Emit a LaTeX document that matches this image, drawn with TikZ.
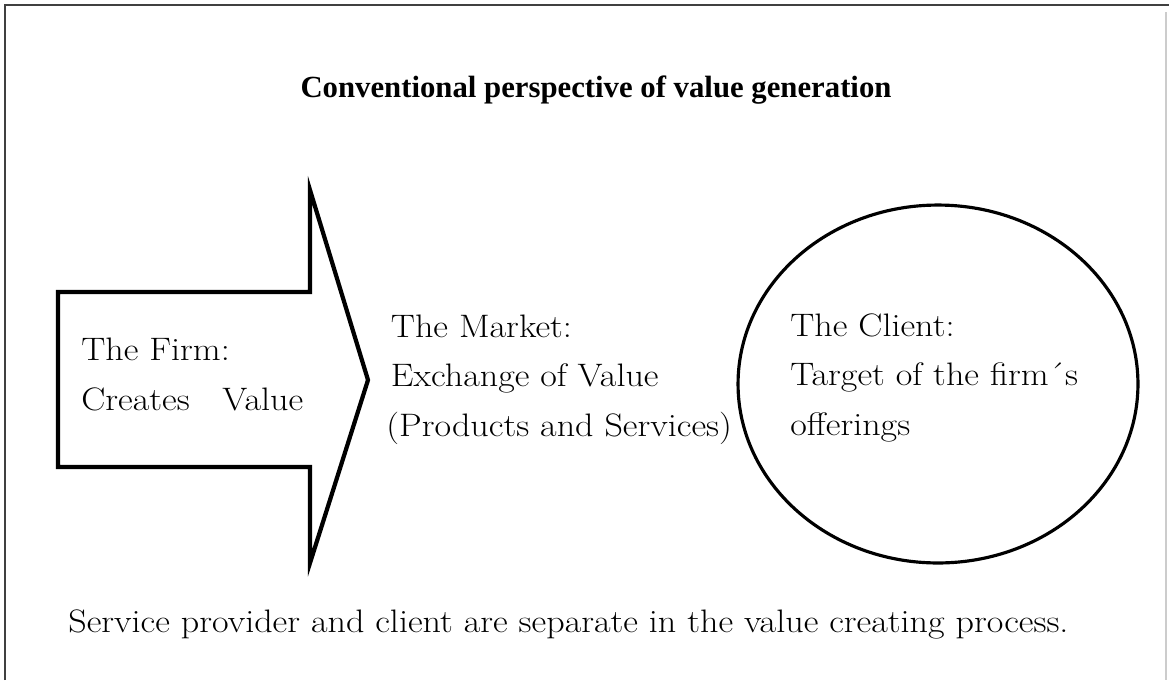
\documentclass[tikz,border=0pt]{standalone}
\usepackage{fontspec}
\setmainfont{Latin Modern Roman}[FakeStretch=1.11]
\newfontfamily\titlefont{Liberation Serif}
\usepackage{tikz}
\usetikzlibrary{calc}
\usetikzlibrary{shapes,positioning}

\tikzset{
  label text/.style={anchor=base west,inner sep=0pt,align=left,
    font=\fontsize{18.5}{28}\selectfont},
  frame line/.style={line width=1.6pt,black!75},
}

\begin{document}
\begin{tikzpicture}[x=0.02cm,y=-0.02cm]
        \useasboundingbox (0,0) rectangle (1169,680);
        % frame, open at the bottom
        \draw[frame line] (5,680) -- (5,5) -- (1169,5);
        \draw[black!20,line width=0.6pt] (1166,12) -- (1166,680);

        \node[anchor=base,inner sep=0pt,font=\titlefont\bfseries\fontsize{17.5}{20}\selectfont]
          (title) at (596,97) {Conventional perspective of value generation};

        % the firm as a block arrow
        \draw[line width=2.4pt,line join=miter]
        (58,292) -- (310,292) -- (310,190) -- (368,380) -- (310,563)
        -- (310,467) -- (58,467) -- cycle;
        % base of a multi-line node = last line
        \node[label text] (firm) at (81,410) {The Firm:\\Creates\quad Value};

        \node[label text] (market) at (386,436)
          {\hspace*{2.6pt}The Market:\\\hspace*{2.6pt}Exchange of Value\\(Products and Services)};

        % the client
        \node[draw,ellipse,line width=1.8pt,minimum width=8cm,minimum height=7.16cm,inner sep=0pt]
          (client) at (938,384) {};
        \node[label text] (target) at (790,435)
          {The Client:\\Target of the firm\textasciiacute s\\offerings};

        \node[label text] (note) at (68,632)
          {Service provider and client are separate in the value creating process.};
      \end{tikzpicture}
\end{document}
